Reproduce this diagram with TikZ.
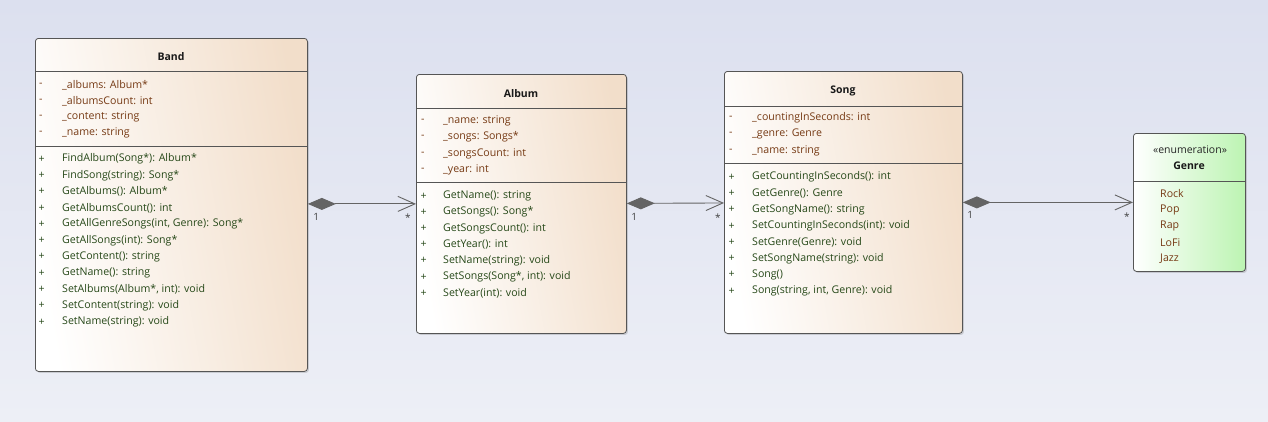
\documentclass[tikz,border=0pt]{standalone}
\usepackage{fontspec}
\setmainfont{Open Sans}
\usetikzlibrary{arrows.meta,shadows}
\definecolor{bgtop}{RGB}{220,224,239}
\definecolor{bgbot}{RGB}{237,239,246}
\definecolor{peach}{RGB}{242,222,202}
\definecolor{mint}{RGB}{188,244,178}
\definecolor{attrc}{RGB}{118,58,20}
\definecolor{opc}{RGB}{38,72,24}
\definecolor{edgec}{RGB}{100,100,100}
\definecolor{borderc}{RGB}{85,85,85}
\tikzset{
  classbox/.style={draw=borderc, line width=0.8pt, rounded corners=3pt, anchor=north west,
    left color=white, right color=peach, shading angle=100, inner sep=0pt,
    drop shadow={shadow xshift=1.5pt, shadow yshift=-1.5pt, opacity=0.25, fill=black!60}},
  enumbox/.style={classbox, right color=mint},
  divider/.style={draw=borderc, line width=0.8pt},
  title/.style={font=\fontsize{10.5}{12}\selectfont\bfseries, text=black!90, inner sep=0pt},
  attr/.style={font=\fontsize{10.6}{12}\selectfont, text=attrc, anchor=west, inner sep=0pt},
  oper/.style={font=\fontsize{10.6}{12}\selectfont, text=opc, anchor=west, inner sep=0pt},
  mult/.style={font=\fontsize{10}{11}\selectfont, text=black!75, inner sep=0pt},
  comp/.style={draw=edgec, line width=0.9pt,
    {Diamond[length=28pt,width=12pt,fill=edgec]}-{Straight Barb[length=17pt,width=15pt,line width=0.9pt]}}
}
\begin{document}
\begin{tikzpicture}[x=1pt,y=-1pt]
\useasboundingbox (0,0) rectangle (1268,421);
\fill[top color=bgtop, bottom color=bgbot] (0,0) rectangle (1268,421);

% Band
\node[classbox, minimum width=272pt, minimum height=333pt] (band) at (35,38) {};
\node[title] (bandt) at (171,57) {Band};
\draw[divider] (35,71) -- (307,71);
\draw[divider] (35,146) -- (307,146);
\foreach \t [count=\i from 0] in {{\_albums: Album*},{\_albumsCount: int},{\_content: string},{\_name: string}}{
  \node[attr] at (39,85+16*\i) {-};
  \node[attr] at (62,85+16*\i) {\t};
}
\foreach \t [count=\i from 0] in {{FindAlbum(Song*): Album*},{FindSong(string): Song*},{GetAlbums(): Album*},{GetAlbumsCount(): int},{GetAllGenreSongs(int, Genre): Song*},{GetAllSongs(int): Song*},{GetContent(): string},{GetName(): string},{SetAlbums(Album*, int): void},{SetContent(string): void},{SetName(string): void}}{
  \node[oper] at (38.5,159+16.3*\i) {+};
  \node[oper] at (62,159+16.3*\i) {\t};
}

% Album
\node[classbox, minimum width=210pt, minimum height=259pt] (album) at (416,74) {};
\node[title] (albumt) at (521,94) {Album};
\draw[divider] (416,108) -- (626,108);
\draw[divider] (416,182) -- (626,182);
\foreach \t [count=\i from 0] in {{\_name: string},{\_songs: Songs*},{\_songsCount: int},{\_year: int}}{
  \node[attr] at (421,121+16.2*\i) {-};
  \node[attr] at (443,121+16.2*\i) {\t};
}
\foreach \t [count=\i from 0] in {{GetName(): string},{GetSongs(): Song*},{GetSongsCount(): int},{GetYear(): int},{SetName(string): void},{SetSongs(Song*, int): void},{SetYear(int): void}}{
  \node[oper] at (420.5,196+16.2*\i) {+};
  \node[oper] at (443,196+16.2*\i) {\t};
}

% Song
\node[classbox, minimum width=238pt, minimum height=262pt] (song) at (724,71) {};
\node[title] (songt) at (843,91) {Song};
\draw[divider] (724,106) -- (962,106);
\draw[divider] (724,163) -- (962,163);
\foreach \t [count=\i from 0] in {{\_countingInSeconds: int},{\_genre: Genre},{\_name: string}}{
  \node[attr] at (729,118+16.3*\i) {-};
  \node[attr] at (752,118+16.3*\i) {\t};
}
\foreach \t [count=\i from 0] in {{GetCountingInSeconds(): int},{GetGenre(): Genre},{GetSongName(): string},{SetCountingInSeconds(int): void},{SetGenre(Genre): void},{SetSongName(string): void},{Song()},{Song(string, int, Genre): void}}{
  \node[oper] at (728.5,177+16.3*\i) {+};
  \node[oper] at (752,177+16.3*\i) {\t};
}

% Genre
\node[enumbox, minimum width=112pt, minimum height=138pt] (genre) at (1133,133) {};
\node[font=\fontsize{10.5}{12}\selectfont, text=black!85, inner sep=0pt] (genres) at (1190,150) {«enumeration»};
\node[title] (genret) at (1189,166) {Genre};
\draw[divider] (1133,181) -- (1245,181);
\foreach \t [count=\i from 0] in {Rock,Pop,Rap,LoFi,Jazz}{
  \node[attr] at (1160,194+16.2*\i) {\t};
}

% connectors
\draw[comp] (band.east |- album.west) -- (album.west)
  node[mult, pos=0, anchor=north west, xshift=5pt, yshift=-9pt] {1}
  node[mult, pos=1, anchor=north east, xshift=-5pt, yshift=-10pt] {*};
\draw[comp] (album) -- (song)
  node[mult, pos=0, anchor=north west, xshift=4pt, yshift=-9pt] {1}
  node[mult, pos=1, anchor=north east, xshift=-3pt, yshift=-10pt] {*};
\draw[comp] (song) -- (genre)
  node[mult, pos=0, anchor=north west, xshift=4pt, yshift=-9pt] {1}
  node[mult, pos=1, anchor=north east, xshift=-3pt, yshift=-10pt] {*};
\end{tikzpicture}
\end{document}
